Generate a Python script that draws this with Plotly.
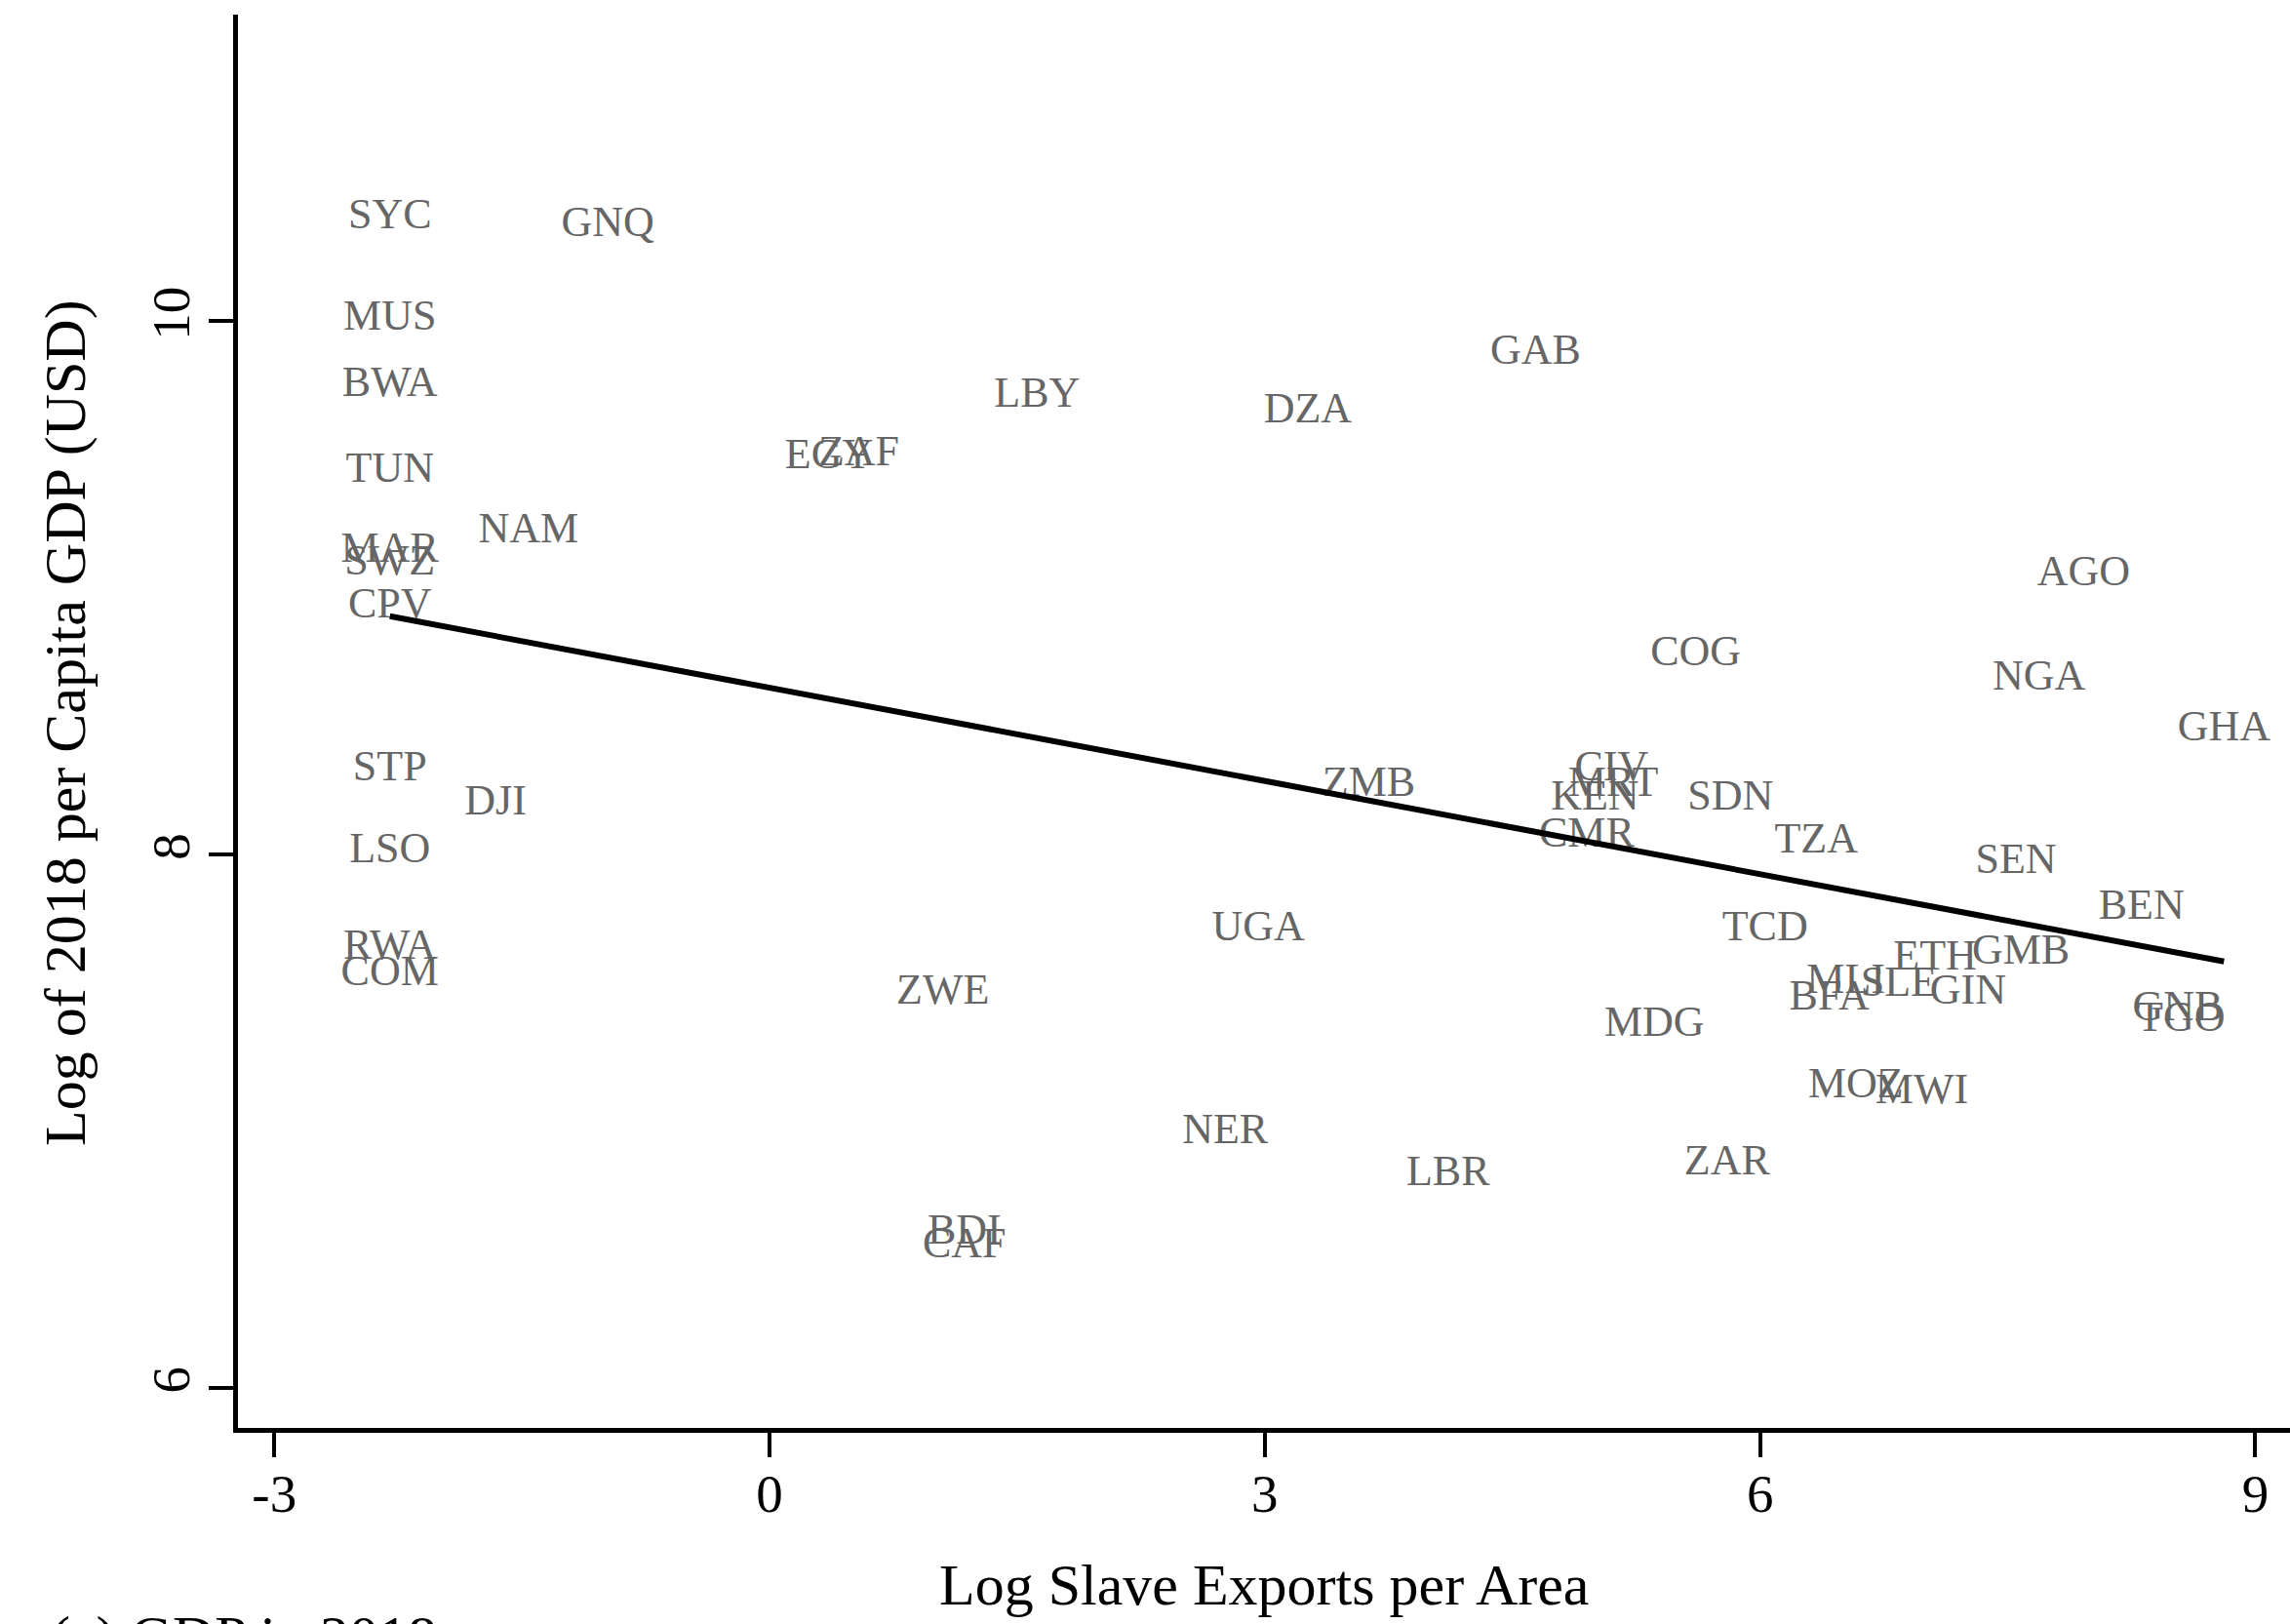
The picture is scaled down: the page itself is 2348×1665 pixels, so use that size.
import numpy as np
import plotly.graph_objects as go

countries = ["SYC", "GNQ", "MUS", "BWA", "LBY", "DZA", "GAB", "TUN", "EGY", "ZAF",
             "NAM", "MAR", "SWZ", "CPV", "AGO", "COG", "NGA", "GHA", "STP", "DJI",
             "ZMB", "CIV", "MRT", "KEN", "SDN", "CMR", "TZA", "SEN", "LSO", "BEN",
             "UGA", "TCD", "RWA", "COM", "ETH", "GMB", "MLI", "SLE", "GIN", "BFA",
             "ZWE", "GNB", "TGO", "MDG", "MOZ", "MWI", "NER", "LBR", "ZAR", "BDI", "CAF"]

log_slave_exports = [-2.30, -0.98, -2.30, -2.30, 1.62, 3.26, 4.64, -2.30, 0.36, 0.54,
                     -1.46, -2.30, -2.30, -2.30, 7.96, 5.61, 7.69, 8.81, -2.30, -1.66,
                     3.63, 5.10, 5.11, 5.00, 5.82, 4.95, 6.34, 7.55, -2.30, 8.31,
                     2.96, 6.03, -2.30, -2.30, 7.06, 7.58, 6.52, 6.84, 7.26, 6.42,
                     1.05, 8.53, 8.55, 5.36, 6.58, 6.98, 2.76, 4.11, 5.80, 1.18, 1.18]

log_gdp_2018 = [10.39, 10.36, 10.01, 9.76, 9.72, 9.66, 9.88, 9.44, 9.49, 9.50,
                9.21, 9.14, 9.09, 8.93, 9.05, 8.75, 8.66, 8.47, 8.32, 8.19,
                8.26, 8.32, 8.26, 8.21, 8.21, 8.07, 8.05, 7.97, 8.01, 7.80,
                7.72, 7.72, 7.65, 7.55, 7.61, 7.63, 7.52, 7.51, 7.48, 7.46,
                7.48, 7.42, 7.38, 7.36, 7.13, 7.11, 6.96, 6.80, 6.84, 6.58, 6.53]

x_ticks = [-3, 0, 3, 6, 9]
y_ticks = [6, 8, 10]

x_title = "Log Slave Exports per Area"
y_title = "Log of 2018 per Capita GDP (USD)"
caption = "(a) GDP in 2018"

FONT = "Liberation Serif"

xs = np.array(log_slave_exports)
ys = np.array(log_gdp_2018)
slope, intercept = np.polyfit(xs, ys, 1)
fit_x = np.array([xs.min(), xs.max()])
fit_y = intercept + slope * fit_x

fig = go.Figure()
fig.add_trace(go.Scatter(
    x=log_slave_exports, y=log_gdp_2018, mode="text", text=countries,
    textposition="middle center",
    textfont=dict(family=FONT, size=44, color="#666666"),
    showlegend=False, hoverinfo="skip"))
fig.add_trace(go.Scatter(
    x=fit_x, y=fit_y, mode="lines",
    line=dict(color="black", width=6), showlegend=False))

axis_common = dict(showline=True, linecolor="black", linewidth=4.5,
                   ticks="outside", ticklen=25, tickwidth=4, tickcolor="black",
                   showgrid=False, zeroline=False,
                   tickfont=dict(family=FONT, size=55, color="black"))

fig.update_xaxes(range=[-3.22, 9.21], tickvals=x_ticks, ticktext=[str(v) for v in x_ticks],
                 ticklabelstandoff=-10, **axis_common)
fig.update_yaxes(range=[5.85, 11.15], tickvals=y_ticks, ticktext=[str(v) for v in y_ticks],
                 tickangle=-90, ticklabelstandoff=-2, **axis_common)

fig.add_annotation(text=x_title, xref="paper", yref="paper", x=0.5, y=-0.111,
                   xanchor="center", yanchor="middle", showarrow=False,
                   font=dict(family=FONT, size=60, color="black"))
fig.add_annotation(text=y_title, xref="paper", yref="paper", x=-0.0841, y=0.499,
                   xanchor="center", yanchor="middle", textangle=-90, showarrow=False,
                   font=dict(family=FONT, size=60, color="black"))
fig.add_annotation(text=caption, xref="paper", yref="paper", x=-0.0922, y=-0.1235,
                   xanchor="left", yanchor="top", showarrow=False,
                   font=dict(family=FONT, size=60, color="black"))

fig.update_layout(width=2348, height=1665,
                  margin=dict(l=244, r=0, t=15, b=201),
                  paper_bgcolor="white", plot_bgcolor="white")

fig.write_html("out.html")
